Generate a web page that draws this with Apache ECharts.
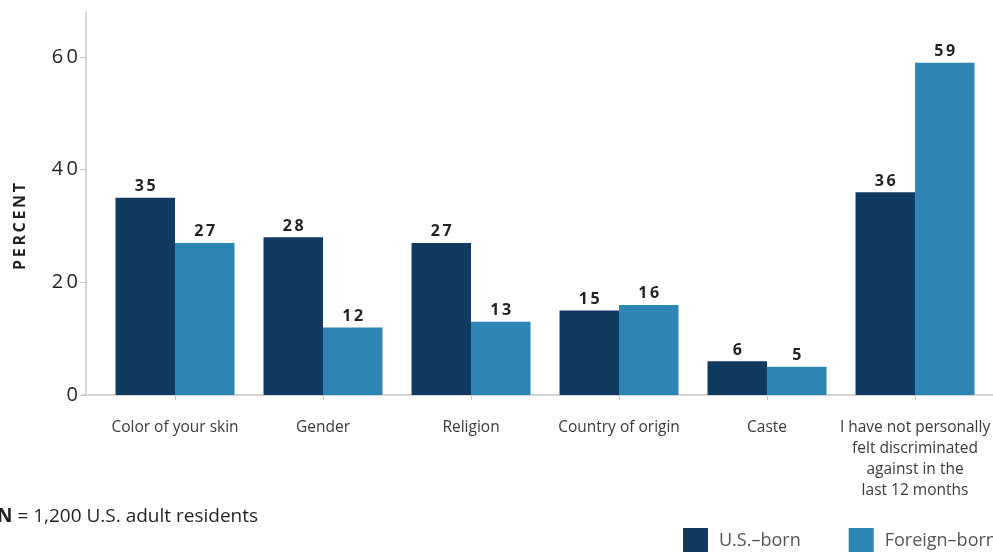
<!DOCTYPE html>
<html>
<head>
<meta charset="utf-8">
<script src="https://cdn.jsdelivr.net/npm/echarts@6/dist/echarts.min.js"></script>
<style>
  html, body { margin: 0; padding: 0; background: #fff; }
  #chart { width: 993px; height: 552px; }
</style>
</head>
<body>
<div id="chart"></div>
<script>
// Reasons for feeling discriminated against, by nativity
const categories = [
  'Color of your skin',
  'Gender',
  'Religion',
  'Country of origin',
  'Caste',
  'I have not personally\nfelt discriminated\nagainst in the\nlast 12 months'
];
const usBorn = [35, 28, 27, 15, 6, 36];
const foreignBorn = [27, 12, 13, 16, 5, 59];
const yTicks = [0, 20, 40, 60];
const seriesNames = ['U.S.–born', 'Foreign–born'];

const FONT = '"Open Sans", Lato, sans-serif';
const AXIS_GREY = '#c8c8c8';
const DARK = '#103a60';
const LIGHT = '#2c85b3';

// spread letters apart with thin spaces (tracked caps)
const tracked = s => s.split('').join('\u2009');

const chart = echarts.init(document.getElementById('chart'));

const valueLabel = {
  show: true,
  position: 'top',
  distance: 3,
  color: '#231f20',
  fontFamily: FONT,
  fontWeight: 'bold',
  fontSize: 16,
  formatter: p => tracked(String(p.value))
};

chart.setOption({
  animation: false,
  textStyle: { fontFamily: FONT },
  grid: [
    { left: 101, right: 2, top: 12, bottom: 157, containLabel: false },
    // baseline strip that runs the full width under the bars
    { left: 82, right: 0, bottom: 157, height: 0 }
  ],
  legend: {
    left: 683,
    top: 528,
    width: 400,
    padding: 0,
    itemWidth: 25,
    itemHeight: 25,
    itemGap: 48,
    icon: 'rect',
    textStyle: { color: '#555', fontSize: 18, fontFamily: FONT, padding: [0, 0, 4, 6] },
    data: seriesNames
  },
  xAxis: [
    {
      type: 'category',
      gridIndex: 0,
      data: categories,
      axisLine: { show: false },
      axisTick: { show: true, alignWithLabel: true, length: 5, lineStyle: { color: AXIS_GREY } },
      axisLabel: {
        color: '#3a3a3a',
        fontSize: 15.5,
        fontFamily: FONT,
        margin: 22,
        lineHeight: 21,
        interval: 0
      }
    },
    {
      type: 'value',
      gridIndex: 1,
      min: 0,
      max: 1,
      axisLine: { show: true, onZero: false, lineStyle: { color: AXIS_GREY, width: 1.5 } },
      axisTick: { show: false },
      axisLabel: { show: false },
      splitLine: { show: false }
    }
  ],
  yAxis: [
    {
      type: 'value',
      gridIndex: 0,
      min: 0,
      max: 68,
      offset: 15,
      axisLine: { show: true, lineStyle: { color: AXIS_GREY, width: 1.5 } },
      axisTick: { show: true, length: 6, customValues: yTicks, lineStyle: { color: AXIS_GREY } },
      axisLabel: {
        customValues: yTicks,
        color: '#231f20',
        fontSize: 20,
        fontFamily: FONT,
        margin: 8,
        formatter: v => tracked(String(v))
      },
      splitLine: { show: false }
    },
    {
      type: 'value',
      gridIndex: 1,
      show: false
    }
  ],
  graphic: [
    {
      type: 'text',
      left: 12,
      top: 183,
      rotation: Math.PI / 2,
      style: {
        text: tracked('PERCENT'),
        fill: '#231f20',
        font: 'bold 16px ' + FONT
      }
    },
    {
      type: 'text',
      left: -3,
      top: 507,
      style: {
        text: '{b|N} = 1,200 U.S. adult residents',
        rich: {
          b: { fontWeight: 'bold', fontSize: 19, fill: '#231f20', fontFamily: FONT }
        },
        fill: '#231f20',
        fontSize: 19,
        fontFamily: FONT
      }
    }
  ],
  series: [
    {
      name: seriesNames[0],
      type: 'bar',
      xAxisIndex: 0,
      yAxisIndex: 0,
      data: usBorn,
      barWidth: 59.5,
      barGap: '0%',
      itemStyle: { color: DARK },
      label: valueLabel
    },
    {
      name: seriesNames[1],
      type: 'bar',
      xAxisIndex: 0,
      yAxisIndex: 0,
      data: foreignBorn,
      barWidth: 59.5,
      barGap: '0%',
      itemStyle: { color: LIGHT },
      label: valueLabel
    }
  ]
});
</script>
</body>
</html>
